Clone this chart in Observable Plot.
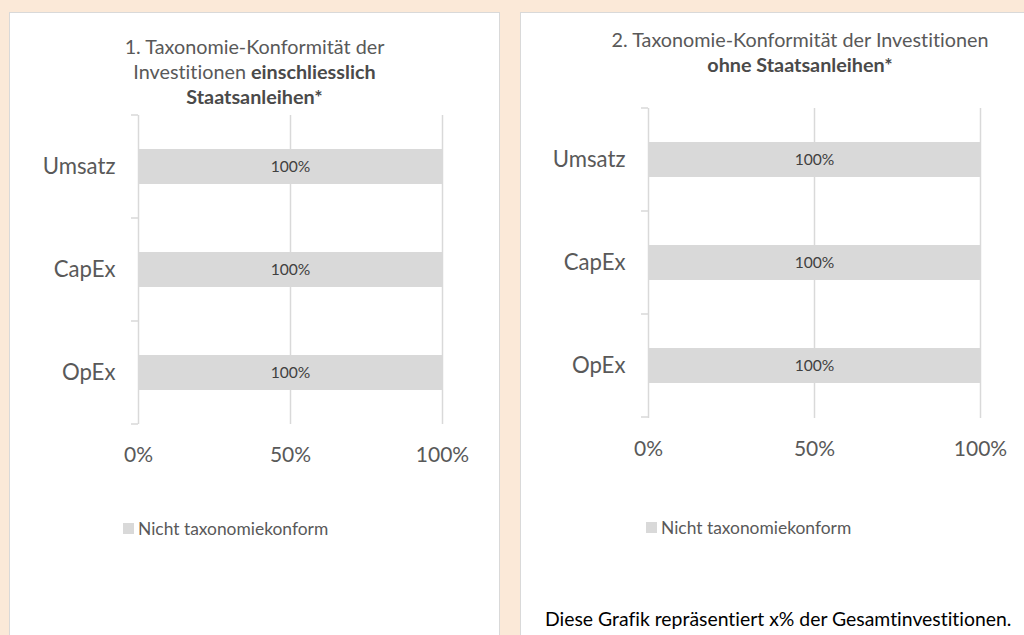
<!DOCTYPE html>
<html><head><meta charset="utf-8">
<script src="https://cdn.jsdelivr.net/npm/d3@7"></script>
<script src="https://cdn.jsdelivr.net/npm/@observablehq/plot@0.6"></script>
<style>
html,body{margin:0;padding:0;}
body{width:1024px;height:635px;background:#FBE9D8;position:relative;overflow:hidden;font-family:Lato,sans-serif;font-variant-ligatures:none;}
svg, svg text{font-variant-ligatures:none;}
.panel{position:absolute;background:#fff;border:1px solid #D9D9D9;box-sizing:border-box;}
.title{position:absolute;text-align:center;color:#595959;font-size:19.8px;line-height:25px;white-space:nowrap;}
.title b{color:#4a4a4a;}
.legend{position:absolute;color:#595959;font-size:17.4px;display:flex;align-items:center;height:20px;white-space:nowrap;}
.swatch{width:11px;height:11px;background:#D9D9D9;margin-right:4px;flex:none;}
.chart{position:absolute;}
.caption{position:absolute;color:#000;font-size:19.4px;white-space:nowrap;line-height:22px;}
</style></head><body>
<div class="panel" style="left:9px;top:12px;width:491px;height:640px"></div>
<div class="panel" style="left:520px;top:12px;width:560px;height:640px"></div>

<div class="title" style="left:9px;width:491px;top:34px">1. Taxonomie-Konformität der<br>Investitionen <b>einschliesslich</b><br><b>Staatsanleihen*</b></div>
<div class="title" style="left:600px;width:400px;top:27px">2. Taxonomie-Konformität der Investitionen<br><b>ohne Staatsanleihen*</b></div>

<div class="chart" id="c1" style="left:10px;top:100px"></div>
<div class="chart" id="c2" style="left:521px;top:95px"></div>

<div class="legend" id="l1" style="left:123px;top:518px"></div>
<div class="legend" id="l2" style="left:646px;top:517px"></div>

<div class="caption" id="cap" style="left:545px;top:608px"></div>

<script>
// ---- data ----
const categories = ["Umsatz", "CapEx", "OpEx"];
const chart1Values = [100, 100, 100];   // Nicht taxonomiekonform, einschliesslich Staatsanleihen
const chart2Values = [100, 100, 100];   // Nicht taxonomiekonform, ohne Staatsanleihen
const xTicks = [0, 50, 100];
const seriesName = "Nicht taxonomiekonform";
const captionText = "Diese Grafik repräsentiert x% der Gesamtinvestitionen.";

const GRID = "#D9D9D9", TEXT = "#595959";

function makeChart(values, dims) {
  const data = categories.map((c, i) => ({category: c, value: values[i]}));
  const chart = Plot.plot({
    width: dims.width, height: dims.height,
    marginLeft: dims.ml, marginRight: dims.mr, marginTop: dims.mt, marginBottom: dims.mb,
    style: {fontFamily: "Lato, sans-serif", background: "transparent", overflow: "visible"},
    x: {domain: [0, 100], label: null},
    y: {domain: categories, paddingInner: 0.66, paddingOuter: 0.33, label: null},
    marks: [
      Plot.ruleX(xTicks, {stroke: GRID, strokeWidth: 1.5}),
      Plot.barX(data, {x: "value", y: "category", fill: GRID}),
      Plot.text(data, {x: d => d.value / 2, y: "category", text: d => d.value + "%", fill: "#404040", fontSize: 15.6}),
      Plot.axisX({ticks: xTicks, tickSize: 0, tickPadding: 23, fontSize: 21, color: TEXT, tickFormat: d => d + "%", label: null}),
      Plot.axisY({tickSize: 0, tickPadding: 23, fontSize: 22.2, color: TEXT, label: null})
    ]
  });
  // category boundary ticks on the y axis, from the band scale
  const ys = chart.scale("y");
  const bounds = [];
  categories.forEach((c, i) => {
    const mid = ys.apply(c) + ys.bandwidth / 2;
    bounds.push(mid - ys.step / 2);
    if (i === categories.length - 1) bounds.push(mid + ys.step / 2);
  });
  const x0 = chart.scale("x").apply(0);
  d3.select(chart).append("g").selectAll("line").data(bounds).join("line")
    .attr("x1", x0 - 7).attr("x2", x0).attr("y1", d => d).attr("y2", d => d)
    .attr("stroke", GRID).attr("stroke-width", 1.5);
  return chart;
}

document.getElementById("c1").append(makeChart(chart1Values, {width: 480, height: 380, ml: 128, mr: 48, mt: 15, mb: 56}));
document.getElementById("c2").append(makeChart(chart2Values, {width: 500, height: 370, ml: 127, mr: 41, mt: 13, mb: 47}));

for (const id of ["l1", "l2"]) {
  const el = document.getElementById(id);
  el.innerHTML = '<div class="swatch"></div><span></span>';
  el.querySelector("span").textContent = seriesName;
}
document.getElementById("cap").textContent = captionText;
</script>
</body></html>
